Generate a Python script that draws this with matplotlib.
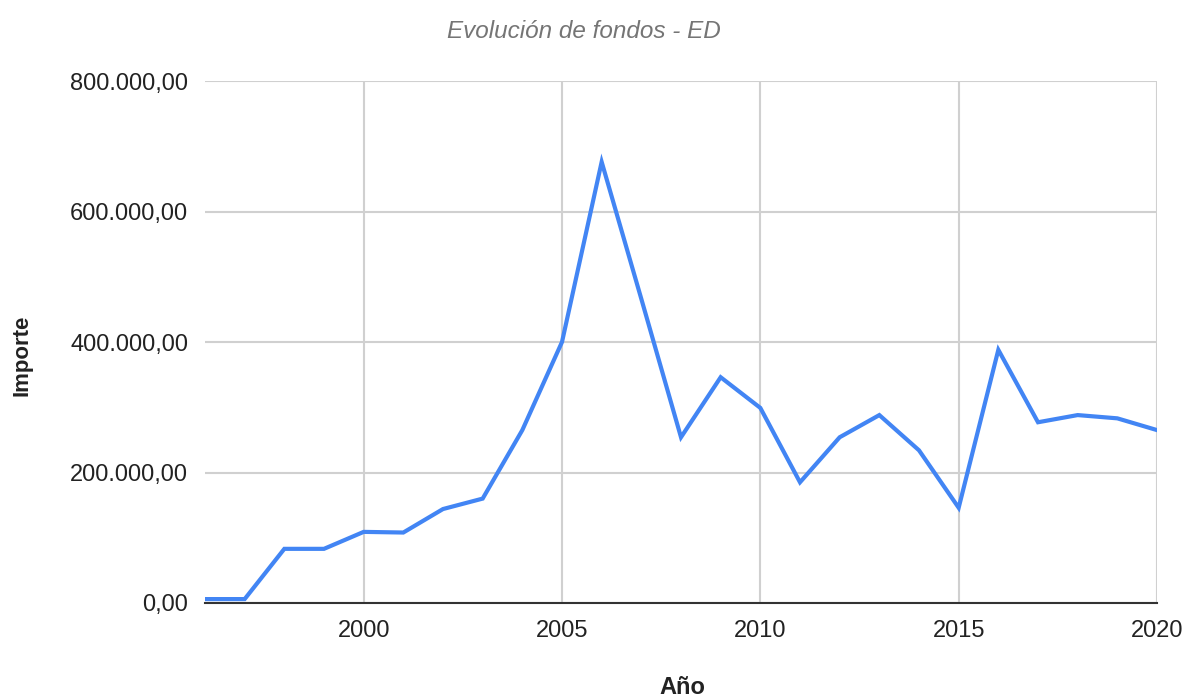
import matplotlib.pyplot as plt
from matplotlib.ticker import FuncFormatter

anios = list(range(1996, 2021))
importe = [6000, 6000, 83000, 83000, 109000, 108000, 144000, 160000, 265000, 400000,
           676000, 466000, 254000, 346000, 299000, 185000, 254000, 288000, 234000, 146000,
           388000, 277000, 288000, 283000, 265000]

plt.rcParams['font.family'] = ['Liberation Sans', 'DejaVu Sans']

fig = plt.figure(figsize=(11.87, 6.98), dpi=100)
ax = fig.add_axes([205 / 1187, 95 / 698, 952 / 1187, 522 / 698])

ax.plot(anios, importe, color='#4285F4', linewidth=3, solid_joinstyle='miter', zorder=3)

ax.set_xlim(1996, 2020)
ax.set_ylim(0, 800000)
ax.set_xticks([2000, 2005, 2010, 2015, 2020])
ax.set_yticks([0, 200000, 400000, 600000, 800000])

def formato_es(v, pos):
    s = f'{v:,.2f}'
    return s.replace(',', 'X').replace('.', ',').replace('X', '.')

ax.yaxis.set_major_formatter(FuncFormatter(formato_es))
ax.tick_params(axis='both', length=0, labelsize=17, colors='#222222', pad=12)
ax.grid(True, color='#d0d0d0', linewidth=1.5)
ax.set_axisbelow(True)
for lado in ['left', 'right', 'top']:
    ax.spines[lado].set_visible(False)
ax.spines['bottom'].set_color('#333333')
ax.spines['bottom'].set_linewidth(1.5)
ax.spines['bottom'].set_zorder(4)

fig.text(584 / 1187, 1 - 32 / 698, 'Evolución de fondos - ED', ha='center', va='center',
         fontsize=17.5, style='italic', color='#757575')
fig.text(22 / 1187, 1 - 355 / 698, 'Importe', ha='center', va='center', rotation=90,
         fontsize=16, fontweight='bold', color='#222222')
fig.text(682 / 1187, 1 - 688 / 698, 'Año', ha='center', va='center',
         fontsize=17, fontweight='bold', color='#222222')

fig.savefig('out.png', dpi=100)
